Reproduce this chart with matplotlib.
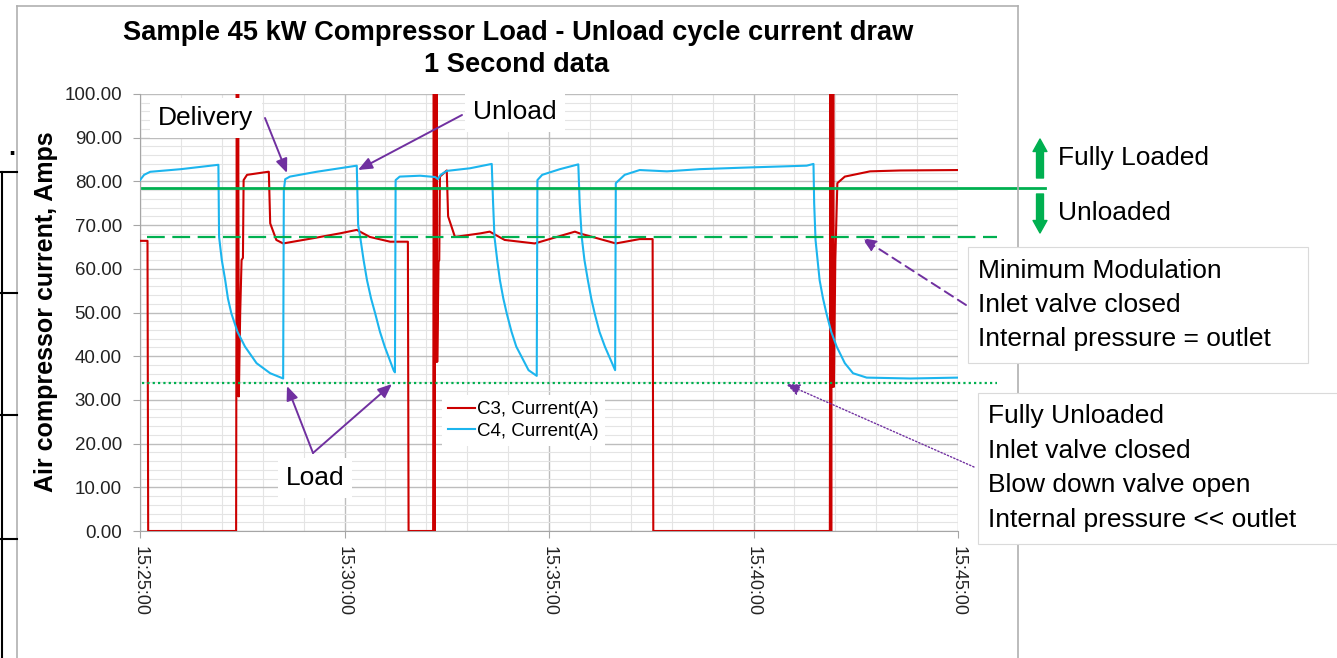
import matplotlib.pyplot as plt
from matplotlib.lines import Line2D
from matplotlib.patches import Rectangle, FancyArrowPatch

plt.rcParams['font.family'] = ['Liberation Sans', 'DejaVu Sans']

# seconds after 15:25:00
c3_seconds = [0, 11, 12, 141, 142, 143, 144, 145, 147, 149, 151, 152, 157, 188, 189, 191, 200, 210,
              254, 293, 318, 337, 367, 393, 394, 430, 431, 432, 433, 434, 435, 436, 438, 439, 440,
              450, 452, 462, 499, 513, 535, 579, 638, 645, 689, 698, 733, 752, 753, 1012, 1013,
              1014, 1015, 1016, 1017, 1018, 1020, 1023, 1034, 1071, 1115, 1200]
c3_amps = [66.4, 66.4, 0, 0, 104, 31, 104, 30.8, 50, 62.0, 62.5, 80.3, 81.5, 82.2, 82.2, 70.4, 66.6, 65.8,
           67.0, 68.1, 68.9, 67.3, 66.2, 66.2, 0, 0, 104, 0, 104, 38.7, 104, 38.7, 61.6, 62.0, 81.1,
           82.5, 72.0, 67.3, 68.1, 68.5, 66.6, 65.8, 68.5, 68.1, 66.2, 65.8, 66.8, 66.8, 0, 0, 104,
           0, 104, 33.0, 104, 33.0, 62.0, 79.6, 81.1, 82.3, 82.5, 82.6]

c4_seconds = [0, 6, 15, 60, 115, 116, 120, 125, 129, 134, 143, 154, 171, 191, 210,
              211, 213, 220, 259, 318, 320, 323, 328, 333, 339, 345, 352, 359, 372, 374,
              375, 381, 411, 433, 437, 441, 450, 484, 516, 518, 520, 524, 528, 533, 538, 545, 552, 570, 582,
              583, 590, 616, 643, 645, 648, 652, 657, 662, 667, 674, 682, 697,
              698, 711, 733, 773, 821, 895, 978, 988, 989, 991, 994, 997, 1002, 1007, 1014, 1022,
              1034, 1046, 1066, 1130, 1200]
c4_amps = [80.3, 81.5, 82.2, 82.8, 83.8, 67.3, 62.0, 57.4, 53.2, 49.8, 45.6, 42.2, 38.4, 36.1, 34.9,
           78.0, 80.5, 81.1, 82.2, 83.6, 70.0, 67.3, 62.0, 57.4, 53.2, 49.8, 45.6, 42.2, 36.8, 36.3,
           80.3, 81.1, 81.3, 81.0, 80.5, 81.5, 82.4, 83.0, 84.0, 75.0, 67.3, 62.0, 57.4, 53.2, 49.8, 45.6, 42.2, 36.8, 35.5,
           80.3, 81.5, 82.8, 83.9, 75.0, 67.3, 62.0, 57.4, 53.2, 49.8, 45.6, 42.2, 36.8,
           79.6, 81.5, 82.6, 82.3, 82.8, 83.2, 83.6, 84.0, 75.0, 66.6, 62.0, 57.4, 53.2, 49.8, 45.6, 42.2,
           38.4, 36.1, 35.1, 34.9, 35.1]

fully_loaded_amps = 78.6
min_modulation_amps = 67.2
fully_unloaded_amps = 33.9

tick_seconds = [0, 300, 600, 900, 1200]
tick_labels = ['15:25:00', '15:30:00', '15:35:00', '15:40:00', '15:45:00']

RED = '#CC0000'
BLUE = '#1CB5EE'
GREEN = '#00B050'
PURPLE = '#7030A0'

W, H = 1337, 658


def fp(x, y):
    # pixel position (top-left origin) -> figure fraction
    return x / W, 1 - y / H


def sec(x):
    return (x - 140) * 1200 / 818


def amp(y):
    return (531 - y) / 4.37


fig = plt.figure(figsize=(W / 100, H / 100), dpi=100)
ax = fig.add_axes([140 / W, 1 - 531 / H, 818 / W, 437 / H])

ax.plot(c3_seconds, c3_amps, color=RED, lw=1.5, label='C3, Current(A)', zorder=3)
ax.plot(c4_seconds, c4_amps, color=BLUE, lw=1.5, label='C4, Current(A)', zorder=3)

# reference levels run past the plot area, like the shapes in the original slide
ax.plot([sec(142), sec(1045)], [fully_loaded_amps] * 2, color=GREEN, lw=2.0, clip_on=False, zorder=4)
ax.plot([sec(147), sec(997)], [min_modulation_amps] * 2, color=GREEN, lw=1.6,
        dashes=(8, 3.4), clip_on=False, zorder=4)
ax.plot([sec(142), sec(997)], [fully_unloaded_amps] * 2, color=GREEN, lw=1.6,
        dashes=(1, 1.4), clip_on=False, zorder=4)

ax.set_xlim(0, 1200)
ax.set_ylim(0, 100)
ax.set_xticks(tick_seconds)
ax.set_xticklabels(tick_labels, rotation=-90, fontsize=13, color='#222222')
ax.set_xticks(range(0, 1201, 60), minor=True)
ax.set_yticks(range(0, 101, 10))
ax.set_yticklabels(['%.2f' % v for v in range(0, 101, 10)], fontsize=13.5, color='#222222')
ax.set_yticks(range(0, 101, 2), minor=True)
ax.grid(which='major', color='#BDBDBD', lw=1.0, zorder=0)
ax.grid(which='minor', color='#E4E4E4', lw=0.8, zorder=0)
ax.set_axisbelow(True)
ax.tick_params(which='minor', length=0)
ax.tick_params(axis='y', which='major', length=5, color='#A6A6A6', pad=8)
ax.tick_params(axis='x', which='major', length=5, color='#A6A6A6', pad=6)
for s in ['top', 'right']:
    ax.spines[s].set_visible(False)
for s in ['left', 'bottom']:
    ax.spines[s].set_color('#A6A6A6')

ax.legend(loc='upper left', bbox_to_anchor=fp(433, 386), bbox_transform=fig.transFigure,
          fontsize=13.5, frameon=True, facecolor='white', edgecolor='none', framealpha=1,
          fancybox=False, handlelength=1.44, handletextpad=0.12, borderpad=0.3, labelspacing=0.25)

# purple pointer arrows
arrow = dict(arrowstyle='-|>,head_length=0.6,head_width=0.25', color=PURPLE, lw=1.4,
             mutation_scale=14, shrinkA=0, shrinkB=0)
ax.annotate('', xy=(sec(287), amp(173)), xytext=(sec(265), amp(118)),
            arrowprops=arrow, annotation_clip=False)
ax.annotate('', xy=(sec(358), amp(170)), xytext=(sec(462), amp(115)),
            arrowprops=arrow, annotation_clip=False)
ax.annotate('', xy=(sec(287), amp(386)), xytext=(sec(313), amp(453)),
            arrowprops=arrow, annotation_clip=False)
ax.annotate('', xy=(sec(392), amp(384)), xytext=(sec(313), amp(453)),
            arrowprops=arrow, annotation_clip=False)
ax.annotate('', xy=(sec(862), amp(238)), xytext=(sec(966), amp(305)),
            arrowprops=dict(arrow, linestyle=(0, (5, 3))), annotation_clip=False)
ax.annotate('', xy=(sec(786), amp(384)), xytext=(sec(974), amp(467)),
            arrowprops=dict(arrow, lw=1.0, linestyle=(0, (1, 1.5))), annotation_clip=False)

# title and axis title
fig.text(*fp(518, 33), 'Sample 45 kW Compressor Load - Unload cycle current draw',
         ha='center', va='center', fontsize=19.6, fontweight='bold')
fig.text(*fp(517, 65), '1 Second data', ha='center', va='center', fontsize=19.6, fontweight='bold')
fig.text(*fp(46, 312), 'Air compressor current, Amps', rotation=90, ha='center', va='center',
         fontsize=18, fontweight='bold')

box = dict(boxstyle='square,pad=0.3', fc='white', ec='none')
fig.text(*fp(206, 118), 'Delivery', ha='center', va='center', fontsize=19, bbox=box)
fig.text(*fp(515, 112), 'Unload', ha='center', va='center', fontsize=19, bbox=box)
fig.text(*fp(315, 478), 'Load', ha='center', va='center', fontsize=19, bbox=box)

# chart border and bits of the slide behind it
for (x0, y0), (x1, y1) in [((17, 6), (17, 658)), ((17, 6), (1018, 6)), ((1018, 6), (1018, 658))]:
    fig.add_artist(Line2D([x0 / W, x1 / W], [1 - y0 / H, 1 - y1 / H], color='#B0B0B0', lw=1.2, zorder=1))
fig.add_artist(Line2D([2 / W, 2 / W], [1 - 172 / H, 0], color='black', lw=1.5, zorder=1))
for y in [172, 293, 415, 539]:
    fig.add_artist(Line2D([0, 17 / W], [1 - y / H] * 2, color='black', lw=1.5, zorder=1))
fig.text(*fp(12, 148), '.', fontsize=18, fontweight='bold', ha='center', va='center')

# fully loaded / unloaded arrows
green_arrow = 'simple,head_length=0.9,head_width=1.0,tail_width=0.5'
fig.add_artist(FancyArrowPatch(fp(1040, 178), fp(1040, 139), transform=fig.transFigure,
                               arrowstyle=green_arrow, mutation_scale=10, color=GREEN,
                               shrinkA=0, shrinkB=0))
fig.add_artist(FancyArrowPatch(fp(1040, 194), fp(1040, 233), transform=fig.transFigure,
                               arrowstyle=green_arrow, mutation_scale=10, color=GREEN,
                               shrinkA=0, shrinkB=0))
fig.text(*fp(1058, 158), 'Fully Loaded', ha='left', va='center', fontsize=19)
fig.text(*fp(1058, 213), 'Unloaded', ha='left', va='center', fontsize=19)

# explanation boxes
mod_lines = ['Minimum Modulation', 'Inlet valve closed', 'Internal pressure = outlet']
unl_lines = ['Fully Unloaded', 'Inlet valve closed', 'Blow down valve open', 'Internal pressure << outlet']
fig.add_artist(Rectangle(fp(968, 363), 340 / W, 116 / H, transform=fig.transFigure,
                         fc='white', ec='#DADADA', lw=0.8, zorder=3))
fig.add_artist(Rectangle(fp(978, 544), 362 / W, 151 / H, transform=fig.transFigure,
                         fc='white', ec='#DADADA', lw=0.8, zorder=3))
for i, line in enumerate(mod_lines):
    fig.text(*fp(978, 271 + 34 * i), line, ha='left', va='center', fontsize=19, zorder=4)
for i, line in enumerate(unl_lines):
    fig.text(*fp(988, 416 + 34.7 * i), line, ha='left', va='center', fontsize=19, zorder=4)

fig.savefig('out.png', dpi=100)
